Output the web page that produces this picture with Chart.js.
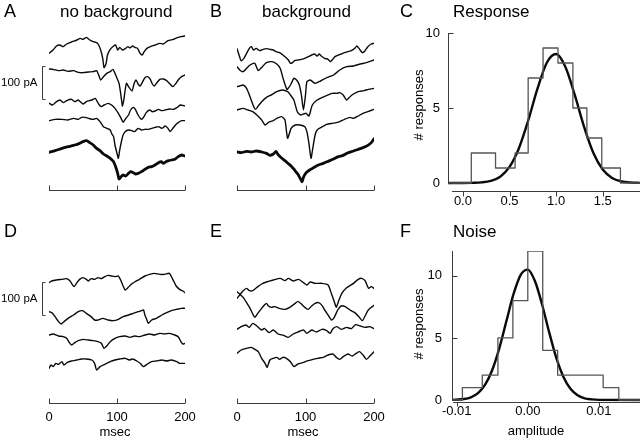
<!DOCTYPE html>
<html>
<head>
<meta charset="utf-8">
<script src="https://cdn.jsdelivr.net/npm/chart.js@4.4.0/dist/chart.umd.min.js"></script>
<style>
  html, body { margin: 0; padding: 0; background: #fff; }
  #fig { position: relative; width: 640px; height: 440px; overflow: hidden; font-family: 'Liberation Sans', Arial, sans-serif; color: #000; }
  #fig canvas { position: absolute; left: 0; top: 0; }
  .lbl { position: absolute; font-size: 18px; line-height: 18px; white-space: nowrap; }
  .ttl { position: absolute; font-size: 17px; line-height: 17px; white-space: nowrap; }
  .ax { position: absolute; font-size: 13px; line-height: 13px; white-space: nowrap; transform: translate(-50%, -50%); }
  .rot { transform: translate(-50%, -50%) rotate(-90deg); }
</style>
</head>
<body>
<div id="fig">
  <canvas id="cA" width="640" height="440"></canvas>
  <canvas id="cB" width="640" height="440"></canvas>
  <canvas id="cC" width="640" height="440"></canvas>
  <canvas id="cD" width="640" height="440"></canvas>
  <canvas id="cE" width="640" height="440"></canvas>
  <canvas id="cF" width="640" height="440"></canvas>

  <div class="lbl" style="left:4px;top:2px">A</div>
  <div class="ttl" style="left:60px;top:3px">no background</div>
  <div class="lbl" style="left:210px;top:2px">B</div>
  <div class="ttl" style="left:262px;top:3px">background</div>
  <div class="lbl" style="left:400px;top:2px">C</div>
  <div class="ttl" style="left:453px;top:3px">Response</div>
  <div class="lbl" style="left:4px;top:222px">D</div>
  <div class="lbl" style="left:210px;top:222px">E</div>
  <div class="lbl" style="left:400px;top:222px">F</div>
  <div class="ttl" style="left:453px;top:223px">Noise</div>

  <div class="ax rot" style="left:418px;top:105px"># responses</div>
  <div class="ax rot" style="left:418px;top:324px"># responses</div>
  <div class="ax" style="left:115px;top:431px">msec</div>
  <div class="ax" style="left:303px;top:431px">msec</div>
  <div class="ax" style="left:536px;top:430px">amplitude</div>
</div>

<script>
// ---- data: time (msec) and current (pA, relative to trace start) ----
var msecTicks = [0, 100, 200];
var BAR_PA = 100;

// A: no background, evoked responses (last = average)
var tA1 = [0,6,11,16,21,26,33,41,46,50,55,60,65,70,73,76,79,81,84,86,90,95,98,101,104,108,112,116,119,123,126,130,134,137,140,144,149,156,163,168,175,183,190,200];
var vA1 = [0,10,22,25,20,28,34,40,45,42,48,40,35,32,25,10,-15,-43,-30,-5,12,22,25,10,18,10,14,20,16,22,18,15,0,-5,5,15,20,25,30,28,38,42,48,52];
var tA2 = [0,6,14,21,28,36,43,50,58,65,70,73,76,80,85,90,94,97,100,103,105,107,108,110,112,114,117,122,125,128,131,134,137,141,145,149,152,155,158,163,168,173,177,182,186,190,195,200];
var vA2 = [0,-1,-5,-3,-7,-5,-10,-11,-9,-8,-5,-18,-33,-23,-13,-8,-1,-13,-28,-43,-68,-98,-111,-93,-63,-43,-53,-66,-45,-33,-45,-51,-41,-26,-23,-31,-45,-51,-43,-31,-30,-35,-43,-53,-45,-33,-23,-18];
var tA3 = [0,5,11,16,21,26,33,38,43,50,55,63,68,71,74,77,81,87,92,97,102,106,109,113,117,120,124,127,131,136,139,143,148,152,156,161,166,171,177,183,188,193,200];
var vA3 = [0,-6,4,9,1,7,11,4,9,-3,4,9,14,4,-6,-11,-6,-1,-6,-16,-31,-46,-58,-46,-36,-21,-13,-19,-36,-49,-43,-29,-21,-26,-24,-19,-23,-21,-18,-19,-14,-6,-9];
var tA4 = [0,9,19,28,36,43,48,53,58,65,70,75,80,85,90,92,95,97,100,102,104,107,109,112,117,122,126,131,136,141,146,151,156,161,166,171,175,178,181,186,190,195,200];
var vA4 = [0,4,4,2,7,4,10,10,7,4,7,-3,-18,-23,-28,-38,-48,-73,-98,-113,-88,-58,-43,-33,-28,-30,-33,-23,-28,-26,-26,-23,-20,-18,-23,-16,-23,-33,-26,-13,-6,0,0];
var tA5 = [0,9,19,28,38,45,50,55,60,65,70,75,80,85,90,95,98,101,103,106,109,113,117,120,124,127,131,136,141,146,151,156,161,165,168,172,176,180,185,190,195,200];
var vA5 = [0,5,12,17,22,27,32,35,29,22,12,5,-5,-11,-18,-28,-43,-63,-80,-73,-68,-71,-63,-58,-61,-65,-63,-58,-51,-45,-43,-38,-31,-28,-33,-28,-25,-23,-21,-13,-8,-11];
var offA = [-70, -117, -219, -272, -367];

// B: background
var tB1 = [0,3,6,10,14,18,21,24,28,33,38,43,48,53,57,62,67,71,75,78,81,84,89,94,99,104,109,113,117,120,123,128,133,136,139,143,148,152,157,162,167,172,175,179,183,187,191,196,200];
var vB1 = [0,-19,-36,-29,-14,1,6,-4,1,-6,-2,0,-2,-4,-9,-12,-19,-26,-34,-44,-42,-36,-34,-32,-29,-24,-19,-16,-22,-16,-22,-29,-32,-39,-34,-24,-19,-16,-12,-9,-6,1,8,-2,-12,-6,6,14,16];
var tB2 = [0,4,9,14,19,26,31,37,43,51,58,63,68,73,78,83,87,91,94,97,100,102,107,114,122,131,141,150,160,170,180,189,200];
var vB2 = [0,-10,-15,-5,5,10,-12,0,12,15,8,-5,-40,-68,-55,-35,-40,-55,-85,-130,-85,-45,-40,-50,-43,-33,-25,-10,0,2,8,12,20];
var tB3 = [0,4,9,14,19,24,27,31,36,43,51,58,66,74,78,83,88,93,97,101,105,110,117,127,139,146,150,155,160,165,170,177,185,192,200];
var vB3 = [0,2,5,-5,-30,-58,-68,-58,-45,-32,-24,-15,-10,-15,-25,-40,-75,-85,-82,-80,-88,-55,-40,-30,-20,-20,-18,-25,-40,-30,-22,-15,-12,-8,-5];
var tB4 = [0,9,16,23,29,36,41,46,53,58,65,70,72,74,79,85,92,99,102,105,108,111,114,117,123,131,139,145,150,157,165,170,177,184,191,200];
var vB4 = [0,5,0,-5,-15,-30,-45,-37,-32,-25,-20,-30,-60,-85,-55,-45,-45,-50,-65,-100,-145,-110,-75,-60,-52,-43,-40,-38,-35,-28,-22,-25,-18,-10,-5,2];
var tB5 = [0,6,14,21,28,36,43,48,53,57,60,65,70,75,80,84,89,93,95,97,101,106,111,118,126,133,140,148,155,162,170,177,184,191,196,200];
var vB5 = [0,-2,2,0,3,0,-4,-10,-6,2,-8,-18,-26,-35,-44,-54,-67,-82,-89,-76,-62,-54,-48,-40,-34,-28,-22,-14,-10,-2,3,8,13,20,28,40];
var offB = [-56, -110, -170, -240, -366];

// D: noise, no background
var tD1 = [0,4,11,19,26,31,34,37,41,45,50,55,58,62,67,72,77,82,87,92,97,102,106,109,112,116,121,126,133,141,148,155,163,170,177,182,187,192,197,200];
var vD1 = [0,5,8,10,12,5,-5,-12,0,10,15,10,5,12,10,15,12,18,22,20,18,20,5,-10,-22,-15,-5,2,10,20,25,28,25,25,28,10,-10,-20,-25,-30];
var tD2 = [0,4,9,14,18,22,28,36,43,49,55,62,67,72,79,87,94,102,109,117,124,131,136,139,141,144,146,151,158,166,173,180,188,195,200];
var vD2 = [0,-3,-15,-30,-37,-30,-20,-10,0,3,-5,-15,-25,-25,-20,-25,-27,-23,-15,-10,-5,0,3,5,-10,-25,-35,-25,-20,-10,-3,3,7,10,10];
var tD3 = [0,6,14,21,26,30,33,38,43,50,58,65,72,77,81,85,90,97,104,112,119,126,133,141,148,155,163,170,177,185,190,194,197,200];
var vD3 = [0,3,-3,-5,-10,-23,-30,-23,-17,-13,-15,-17,-20,-25,-40,-33,-20,-10,-5,-3,-7,-3,-5,0,3,0,5,3,5,0,-5,-20,-27,-25];
var tD4 = [0,3,6,10,14,19,22,27,33,41,48,55,63,67,70,75,82,90,97,104,112,118,123,129,134,139,144,151,158,166,173,180,188,192,200];
var vD4 = [0,10,5,15,12,20,10,18,22,25,28,28,25,15,-5,5,12,20,25,28,30,25,28,22,15,5,12,20,22,25,22,25,20,15,15];
var offD = [-38, -125, -195, -295];

// E: noise, background
var tE1 = [0,4,9,14,18,23,29,36,43,53,63,70,75,82,90,97,102,107,114,124,133,138,142,145,148,153,160,170,177,182,187,192,196,200];
var vE1 = [0,10,23,30,23,23,33,43,49,55,60,53,60,52,57,47,40,49,45,45,40,13,-10,-27,-10,15,32,45,57,60,53,30,35,30];
var tE2 = [0,4,9,14,19,23,26,31,36,40,43,46,50,55,63,70,77,85,89,94,99,104,109,114,119,124,128,133,138,142,147,152,158,165,172,178,183,187,191,196,200];
var vE2 = [0,-7,-17,-33,-50,-67,-77,-63,-50,-40,-35,-43,-47,-45,-51,-53,-47,-35,-29,-37,-47,-53,-43,-35,-33,-41,-55,-70,-85,-77,-55,-43,-45,-55,-63,-75,-87,-73,-57,-47,-41];
var tE3 = [0,6,13,18,23,29,36,40,47,53,60,68,75,82,89,97,102,109,116,124,131,136,140,146,152,160,167,173,180,187,194,200];
var vE3 = [0,8,13,6,18,10,-2,3,-10,-2,-14,-18,-24,-14,-8,-2,-12,-2,-8,0,-4,-12,2,8,0,6,2,14,10,6,8,2];
var tE4 = [0,6,14,21,26,31,36,41,44,48,53,58,62,67,72,78,83,89,96,104,111,118,126,133,140,145,150,155,162,168,174,179,184,189,194,200];
var vE4 = [0,10,15,18,12,5,-15,-30,-42,-20,-15,-12,-18,-12,-15,-25,-40,-32,-28,-22,-18,-15,-12,-5,-2,-12,-18,-10,-2,-8,0,5,-5,-18,-8,5];
var offE = [-85, -65, -178, -250];

// C: response amplitude histogram + gaussian fit
var respTicks = [0, 0.5, 1.0, 1.5];
var countTicks = [0, 5, 10];
var respEdges = [0.09, 0.35, 0.56, 0.70, 0.86, 1.02, 1.18, 1.33, 1.49, 1.69];
var respCounts = [2, 1, 2, 7, 9, 8, 5, 3, 1];
var respFitX = [-0.16, 0.0, 0.1, 0.2, 0.3, 0.4, 0.5, 0.6, 0.7, 0.8, 0.9, 1.0, 1.1, 1.2, 1.3, 1.4, 1.5, 1.6, 1.7, 1.8, 1.9];
var respFitY = [0, 0, 0.01, 0.04, 0.14, 0.42, 1.07, 2.3, 4.15, 6.29, 8.02, 8.6, 7.74, 5.87, 3.74, 2.0, 0.9, 0.34, 0.11, 0.03, 0.01];

// F: noise amplitude histogram + gaussian fit
var noiseTicks = [-0.01, 0, 0.01];
var noiseEdges = [-0.0092, -0.0064, -0.0042, -0.0021, 0, 0.0021, 0.0042, 0.0064, 0.0085, 0.0106, 0.0128];
var noiseCounts = [1, 2, 5, 8, 12, 4, 2, 2, 2, 1];
var noiseFitX = [-0.0107, -0.009, -0.008, -0.007, -0.006, -0.005, -0.004, -0.003, -0.002, -0.001, 0, 0.001, 0.002, 0.003, 0.004, 0.005, 0.006, 0.007, 0.008, 0.009, 0.010, 0.0158];
var noiseFitY = [0.01, 0.08, 0.22, 0.55, 1.23, 2.42, 4.18, 6.37, 8.54, 10.08, 10.5, 9.58, 7.71, 5.47, 3.41, 1.88, 0.91, 0.39, 0.14, 0.05, 0.01, 0];

// ---- drawing ----
var INK = '#0a0a0a', AXIS = '#3c3c3c', HIST = '#555';
var FONT = "'Liberation Sans', Arial, sans-serif";
Chart.defaults.font.family = FONT;
Chart.defaults.font.size = 13;
Chart.defaults.color = '#000';

var framePlugin = {
  id: 'frame',
  afterDraw: function(chart, args, o) {
    var ctx = chart.ctx, a = chart.chartArea, sx = chart.scales.x, sy = chart.scales.y;
    var bx, y0, y1;
    ctx.save();
    ctx.strokeStyle = AXIS;
    ctx.lineWidth = 1;
    ctx.beginPath();
    if (o.x) {
      var yb = Math.round(a.bottom) - 0.5;
      ctx.moveTo(sx.getPixelForValue(o.x.from), yb);
      ctx.lineTo(sx.getPixelForValue(o.x.to), yb);
      o.x.ticks.forEach(function(v) {
        var px = Math.round(sx.getPixelForValue(v)) + 0.5;
        ctx.moveTo(px, yb);
        ctx.lineTo(px, yb + o.x.len);
      });
    }
    if (o.y) {
      var xl = Math.round(a.left) + 0.5;
      ctx.moveTo(xl, sy.getPixelForValue(o.y.from));
      ctx.lineTo(xl, sy.getPixelForValue(o.y.to));
      o.y.ticks.forEach(function(v) {
        var py = Math.round(sy.getPixelForValue(v)) + 0.5;
        ctx.moveTo(xl, py);
        ctx.lineTo(xl - o.y.len, py);
      });
    }
    if (o.bar) {
      bx = Math.round(a.left - o.bar.dx) + 0.5;
      y0 = Math.round(sy.getPixelForValue(o.bar.top)) + 0.5;
      y1 = Math.round(sy.getPixelForValue(o.bar.top - BAR_PA)) + 0.5;
      ctx.moveTo(bx + 3, y0); ctx.lineTo(bx, y0); ctx.lineTo(bx, y1); ctx.lineTo(bx + 3, y1);
    }
    ctx.stroke();
    if (o.bar) {
      ctx.fillStyle = '#000';
      ctx.font = '11.5px ' + FONT;
      ctx.textAlign = 'right';
      ctx.textBaseline = 'middle';
      ctx.fillText(BAR_PA + ' pA', bx - 5, (y0 + y1) / 2);
    }
    ctx.restore();
  }
};

function series(ts, vs, off) {
  return ts.map(function(t, i) { return { x: t, y: vs[i] + off }; });
}
function steps(edges, counts, lo, hi) {
  var pts = [{ x: lo, y: 0 }];
  counts.forEach(function(c, i) { pts.push({ x: edges[i], y: c }); });
  pts.push({ x: edges[edges.length - 1], y: 0 });
  pts.push({ x: hi, y: 0 });
  return pts;
}
function pairs(xs, ys) {
  return xs.map(function(x, i) { return { x: x, y: ys[i] }; });
}
function fixTicks(vals) {
  return function(s) { s.ticks = vals.map(function(v) { return { value: v }; }); };
}
function traceSets(list, offs, thick) {
  return list.map(function(tr, k) {
    return { data: series(tr[0], tr[1], offs[k]), borderColor: INK, borderWidth: k === thick ? 2.8 : 1.4,
      tension: 0.2, pointRadius: 0, fill: false };
  });
}
function hidden(min, max) { return { type: 'linear', display: false, min: min, max: max }; }
function msecAxis(showLabels) {
  if (!showLabels) return hidden(0, 200);
  return { type: 'linear', min: 0, max: 200,
    grid: { display: false, drawTicks: false }, border: { display: false },
    ticks: { padding: 6, autoSkip: false, maxRotation: 0, color: '#000', font: { size: 13 } },
    afterBuildTicks: fixTicks(msecTicks),
    afterFit: function(s) { s.height = 36; } };
}

function panel(id, datasets, pad, xs, ys, frame) {
  return new Chart(document.getElementById(id), {
    type: 'line',
    data: { datasets: datasets },
    options: {
      responsive: false, animation: false, devicePixelRatio: 1,
      layout: { padding: pad },
      plugins: { legend: { display: false }, tooltip: { enabled: false }, frame: frame },
      scales: { x: xs, y: ys },
      elements: { line: { borderCapStyle: 'round', borderJoinStyle: 'round' } }
    },
    plugins: [framePlugin]
  });
}

var xFrame = { from: 0, to: 200, ticks: msecTicks, len: -5 };

panel('cA', traceSets([[tA1, vA1], [tA2, vA2], [tA3, vA3], [tA4, vA4], [tA5, vA5]], offA, 4),
  { left: 49, right: 455, top: 30, bottom: 249 }, msecAxis(false), hidden(-483, 0),
  { x: xFrame, bar: { dx: 7, top: -108 } });

panel('cB', traceSets([[tB1, vB1], [tB2, vB2], [tB3, vB3], [tB4, vB4], [tB5, vB5]], offB, 4),
  { left: 237, right: 266, top: 30, bottom: 249 }, msecAxis(false), hidden(-483, 0),
  { x: xFrame });

panel('cD', traceSets([[tD1, vD1], [tD2, vD2], [tD3, vD3], [tD4, vD4]], offD, -1),
  { left: 49, right: 455, top: 270, bottom: 0 }, msecAxis(true), hidden(-402, 0),
  { x: xFrame, bar: { dx: 7, top: -36 } });

panel('cE', traceSets([[tE1, vE1], [tE2, vE2], [tE3, vE3], [tE4, vE4]], offE, -1),
  { left: 237, right: 266, top: 270, bottom: 0 }, msecAxis(true), hidden(-402, 0),
  { x: xFrame });

function histSets(edges, counts, fx, fy, lo, hi) {
  return [
    { data: steps(edges, counts, lo, hi), stepped: true, borderColor: HIST, borderWidth: 1.3, pointRadius: 0, fill: false },
    { data: pairs(fx, fy), borderColor: INK, borderWidth: 2.4, pointRadius: 0, fill: false, cubicInterpolationMode: 'monotone' }
  ];
}
function histX(min, max, ticks, digits, pad) {
  return { type: 'linear', min: min, max: max,
    grid: { display: false, drawTicks: false }, border: { display: false },
    ticks: { padding: pad, autoSkip: false, maxRotation: 0, color: '#000', font: { size: 13 },
      callback: function(v) { return Number(v).toFixed(digits); } },
    afterBuildTicks: fixTicks(ticks),
    afterFit: function(s) { s.height = 22; } };
}
function histY(min, max, pad, w) {
  return { type: 'linear', min: min, max: max,
    grid: { display: false, drawTicks: false }, border: { display: false },
    ticks: { padding: pad, autoSkip: false, color: '#000', font: { size: 13 } },
    afterBuildTicks: fixTicks(countTicks),
    afterFit: function(s) { s.width = w; } };
}

panel('cC', histSets(respEdges, respCounts, respFitX, respFitY, -0.16, 1.9),
  { left: 400, right: 0, top: 33, bottom: 226 },
  histX(-0.16, 1.9, respTicks, 1, 2), histY(-0.6, 10, 8, 48),
  { x: { from: -0.118, to: 1.9, ticks: respTicks, len: 5 }, y: { from: 0, to: 10, ticks: countTicks, len: -5 } });

panel('cF', histSets(noiseEdges, noiseCounts, noiseFitX, noiseFitY, -0.0107, 0.0158),
  { left: 400, right: 0, top: 251, bottom: 15 },
  histX(-0.01066, 0.01578, noiseTicks, 2, 1), histY(-0.24, 12, 10, 52),
  { x: { from: -0.0105, to: 0.01578, ticks: noiseTicks, len: 4 }, y: { from: 0, to: 12, ticks: countTicks, len: -5 } });
</script>
</body>
</html>
